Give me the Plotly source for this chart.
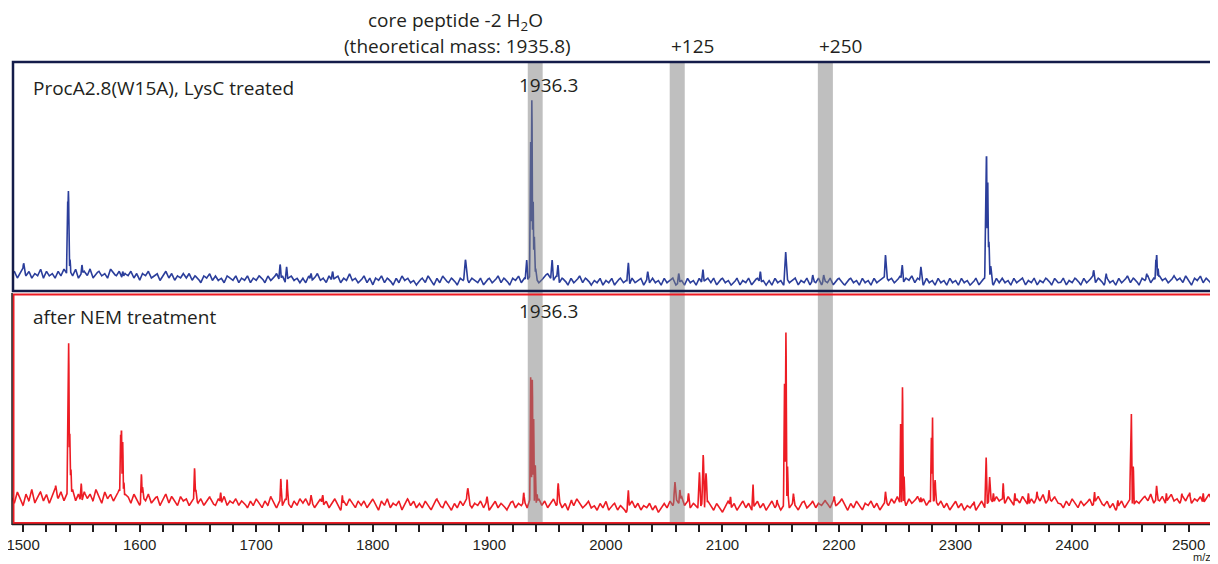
import numpy as np
import plotly.graph_objects as go

# ---------------- data (intensity in % of panel height) ----------------
BASE_MZ = np.arange(1490, 2525.1, 2.5)  # sampling grid of the noise baseline (m/z)

BLUE_BASE = [
    7, 9, 6, 8, 10, 7, 9, 6, 8, 7, 10, 6, 9, 7, 8, 6, 9, 7, 10, 8,
    9, 7, 10, 6, 8, 9, 7, 10, 6, 8, 9, 7, 8, 6, 10, 8, 7, 9, 6, 8,
    7, 9, 6, 8, 5, 8, 7, 9, 6, 7, 8, 5, 7, 9, 6, 8, 5, 7, 6, 8,
    6, 8, 5, 7, 6, 4, 7, 6, 8, 5, 7, 5, 6, 4, 7, 6, 5, 7, 4, 6,
    5, 7, 4, 6, 5, 7, 6, 4, 7, 5, 6, 8, 5, 7, 4, 6, 7, 5, 6, 4,
    6, 4, 7, 5, 6, 8, 5, 6, 4, 7, 5, 6, 7, 4, 6, 5, 8, 5, 6, 4,
    5, 7, 4, 6, 3, 6, 5, 7, 4, 6, 5, 3, 6, 4, 7, 5, 6, 4, 5, 3,
    5, 6, 4, 7, 5, 3, 6, 4, 7, 5, 4, 6, 5, 3, 6, 5, 7, 4, 6, 5,
    4, 6, 3, 5, 6, 4, 5, 7, 4, 6, 5, 3, 6, 5, 7, 4, 6, 5, 7, 6,
    6, 4, 5, 7, 8, 6, 5, 7, 4, 6, 5, 3, 6, 4, 5, 7, 4, 6, 5, 3,
    5, 4, 6, 3, 5, 4, 6, 3, 5, 6, 4, 5, 3, 6, 4, 5, 6, 3, 5, 4,
    6, 4, 5, 3, 6, 4, 5, 6, 3, 4, 5, 3, 6, 4, 5, 3, 6, 4, 5, 6,
    4, 6, 3, 5, 6, 4, 5, 3, 4, 6, 3, 5, 4, 6, 3, 5, 6, 4, 5, 3,
    5, 3, 6, 4, 5, 3, 6, 4, 5, 6, 3, 5, 4, 6, 3, 5, 4, 6, 3, 5,
    4, 6, 3, 5, 6, 4, 3, 5, 6, 4, 5, 3, 6, 4, 5, 3, 6, 4, 5, 6,
    7, 5, 6, 4, 5, 7, 4, 6, 5, 7, 4, 6, 5, 3, 6, 4, 5, 3, 6, 4,
    5, 3, 6, 4, 5, 3, 6, 4, 5, 3, 4, 6, 3, 5, 6, 4, 5, 3, 6, 4,
    6, 4, 5, 3, 6, 4, 5, 6, 3, 5, 4, 6, 3, 5, 4, 6, 5, 3, 6, 4,
    4, 6, 3, 5, 4, 6, 5, 3, 6, 4, 5, 7, 4, 6, 5, 3, 6, 4, 5, 3,
    6, 4, 5, 7, 4, 6, 5, 3, 6, 5, 7, 4, 6, 5, 7, 5, 6, 4, 5, 7,
    5, 6, 4, 7, 5, 3, 6, 5, 7, 4, 6, 5, 3, 6, 4,
]

RED_BASE = [
    12, 9, 14, 11, 8, 13, 10, 15, 9, 12, 14, 10, 13, 9, 12, 15, 11, 14, 10, 13,
    12, 15, 10, 13, 9, 14, 11, 13, 10, 15, 12, 9, 14, 11, 13, 10, 12, 15, 11, 13,
    12, 9, 13, 11, 8, 12, 10, 13, 9, 11, 12, 8, 11, 13, 9, 12, 10, 8, 12, 10,
    11, 8, 10, 12, 9, 11, 8, 10, 12, 9, 8, 11, 9, 12, 8, 10, 9, 11, 8, 10,
    9, 7, 10, 8, 11, 9, 7, 10, 8, 12, 9, 7, 10, 8, 11, 9, 7, 10, 8, 11,
    9, 11, 8, 10, 7, 9, 11, 8, 10, 7, 9, 11, 8, 6, 10, 8, 11, 9, 7, 10,
    8, 10, 7, 9, 11, 8, 6, 10, 8, 11, 7, 9, 8, 10, 6, 9, 11, 8, 10, 7,
    9, 7, 10, 8, 6, 9, 11, 8, 7, 10, 8, 6, 9, 7, 10, 8, 11, 9, 7, 9,
    8, 10, 7, 9, 6, 8, 10, 7, 9, 8, 6, 9, 10, 7, 9, 8, 10, 7, 11, 9,
    9, 11, 8, 10, 7, 9, 11, 8, 10, 7, 9, 6, 10, 8, 11, 9, 7, 8, 10, 7,
    8, 6, 9, 7, 10, 6, 8, 9, 6, 8, 7, 5, 8, 10, 7, 9, 6, 8, 7, 9,
    6, 8, 5, 7, 9, 7, 10, 8, 11, 9, 12, 8, 10, 7, 9, 8, 6, 9, 7, 10,
    8, 6, 9, 7, 5, 8, 10, 7, 9, 6, 8, 10, 7, 9, 6, 8, 10, 7, 9, 6,
    8, 10, 7, 9, 6, 8, 10, 7, 9, 8, 6, 9, 10, 7, 8, 10, 7, 9, 8, 10,
    9, 7, 10, 8, 9, 11, 8, 6, 9, 7, 10, 8, 6, 9, 8, 10, 7, 9, 6, 8,
    10, 8, 11, 9, 12, 9, 10, 8, 11, 9, 10, 12, 9, 11, 8, 10, 9, 11, 8, 10,
    7, 9, 6, 8, 10, 7, 9, 6, 8, 7, 9, 6, 8, 10, 7, 9, 11, 9, 12, 10,
    11, 9, 12, 10, 8, 11, 9, 12, 10, 8, 11, 9, 12, 10, 13, 9, 11, 10, 12, 9,
    9, 7, 10, 8, 11, 9, 7, 10, 8, 9, 11, 8, 10, 12, 9, 8, 10, 7, 9, 6,
    8, 10, 7, 9, 11, 8, 10, 9, 11, 12, 10, 13, 9, 11, 10, 12, 9, 11, 13, 10,
    11, 9, 12, 10, 13, 9, 11, 10, 12, 9, 11, 13, 10, 12, 9,
]

BLUE_PEAK_MZ = [1500.5, 1538.2, 1538.9, 1540.3, 1550.5, 1585.5, 1720.5, 1726.0, 1747.0,
                1765.5, 1879.5, 1932.0, 1935.4, 1936.5, 1937.6, 1938.6, 1939.8, 1953.8,
                1958.8, 2019.2, 2035.9, 2062.5, 2083.2, 2132.5, 2154.2, 2177.5, 2186.9,
                2239.9, 2254.2, 2270.2, 2325.9, 2326.6, 2327.6, 2328.6, 2330.2, 2418.5,
                2429.2, 2464.0, 2471.9, 2472.6, 2473.8]
BLUE_PEAK_INT = [12.4, 40.0, 43.7, 14.0, 11.7, 8.8, 11.9, 11.0, 8.0,
                 8.8, 13.9, 13.9, 67.0, 83.0, 40.0, 24.0, 10.0, 13.9,
                 11.7, 12.7, 8.8, 8.0, 9.8, 8.8, 17.4, 7.3, 7.3,
                 16.0, 11.7, 11.0, 52.0, 60.3, 48.5, 22.0, 11.0, 9.4,
                 8.0, 8.0, 14.0, 16.0, 10.0]
BLUE_PEAK_W = [1.0, 0.5, 0.5, 0.6, 0.8, 1.0, 0.8, 0.8, 1.0,
               1.0, 1.0, 0.8, 0.4, 0.4, 0.4, 0.5, 0.6, 0.8,
               0.8, 0.8, 0.8, 0.8, 0.8, 0.8, 0.8, 0.8, 0.8,
               0.7, 0.8, 0.8, 0.4, 0.4, 0.4, 0.6, 0.8, 0.8,
               0.8, 0.8, 0.5, 0.5, 0.6]

RED_PEAK_MZ = [1528.0, 1538.5, 1539.1, 1540.0, 1541.0, 1549.8, 1583.6, 1584.4, 1585.4,
               1586.5, 1601.5, 1602.5, 1647.1, 1648.2, 1669.5, 1721.1, 1726.5, 1747.0,
               1757.0, 1773.8, 1881.5, 1898.0, 1929.5, 1935.5, 1936.9, 1938.0, 1939.4,
               1941.0, 1959.1, 1970.5, 2019.2, 2059.2, 2063.5, 2070.9, 2080.2, 2083.5,
               2085.9, 2106.9, 2126.2, 2146.9, 2153.2, 2154.5, 2155.9, 2160.9, 2188.2,
               2195.9, 2239.9, 2252.9, 2254.5, 2255.9, 2270.2, 2279.2, 2280.2, 2282.5,
               2315.9, 2326.2, 2329.2, 2332.5, 2340.9, 2350.9, 2362.5, 2369.9, 2380.2,
               2419.2, 2439.2, 2450.2, 2450.9, 2452.5, 2472.5, 2480.9, 2494.2, 2500.9,
               2512.5]
RED_PEAK_INT = [16.5, 70.0, 78.6, 40.0, 24.0, 17.7, 40.0, 41.6, 36.0,
                18.0, 21.6, 16.0, 24.2, 15.0, 13.6, 19.6, 19.3, 12.6,
                12.6, 12.6, 15.5, 11.9, 13.6, 63.8, 62.7, 46.7, 25.7,
                13.0, 17.7, 10.4, 14.8, 18.4, 14.8, 13.3, 22.7, 30.0,
                22.0, 11.8, 17.4, 10.4, 62.9, 83.3, 25.0, 13.2, 10.4,
                12.0, 14.0, 43.5, 59.4, 20.6, 11.6, 38.7, 47.8, 19.1,
                9.7, 29.3, 20.6, 13.3, 17.7, 13.3, 13.3, 14.0, 14.8,
                14.0, 10.4, 38.0, 47.8, 25.0, 16.6, 13.3, 13.3, 13.6,
                13.3]
RED_PEAK_W = [1.0, 0.4, 0.4, 0.5, 0.6, 0.8, 0.4, 0.4, 0.5,
              0.7, 0.6, 0.7, 0.6, 0.8, 0.8, 0.6, 0.6, 1.0,
              1.0, 0.8, 1.2, 1.0, 0.8, 0.4, 0.4, 0.4, 0.5,
              0.7, 0.7, 1.0, 0.7, 0.8, 0.8, 0.8, 0.8, 0.7,
              0.8, 0.8, 0.6, 0.8, 0.4, 0.4, 0.5, 0.8, 1.0,
              0.8, 0.8, 0.4, 0.4, 0.5, 0.8, 0.4, 0.4, 0.6,
              0.8, 0.6, 0.7, 0.8, 0.6, 0.8, 0.8, 0.8, 0.8,
              0.8, 0.8, 0.4, 0.4, 0.5, 0.8, 0.8, 0.8, 0.8,
              0.8]

BANDS = [(1933.0, 1945.8), (2054.8, 2067.7), (2181.9, 2194.8)]
BAND_LABELS = ["+125", "+250"]
PANEL_LABELS = ["ProcA2.8(W15A), LysC treated", "after NEM treatment"]
PEAK_LABEL = "1936.3"
X_RANGE = [1490.5, 2523.5]

BLUE = "#2b3e9b"
RED = "#ed1c24"
NAVY = "#141c4a"
INK = "#231f20"

# ---------------- build spectra ----------------
mz = np.arange(X_RANGE[0], X_RANGE[1] + 0.1, 0.2)


def spectrum(base_vals, p_mz, p_int, p_w):
    base = np.interp(mz, BASE_MZ, base_vals)
    peaks = np.zeros_like(mz)
    for m, h, w in zip(p_mz, p_int, p_w):
        peaks = np.maximum(peaks, h * np.exp(-0.5 * ((mz - m) / w) ** 2))
    return np.maximum(base, peaks)


blue_y = spectrum(BLUE_BASE, BLUE_PEAK_MZ, BLUE_PEAK_INT, BLUE_PEAK_W)
red_y = spectrum(RED_BASE, RED_PEAK_MZ, RED_PEAK_INT, RED_PEAK_W)

# ---------------- figure ----------------
OFF = 8  # page body margin
W, H = 1210, 556
ML, MR, MT, MB = 4, 2, 53, 40
PW, PH = W - ML - MR, H - MT - MB


def px(xp):  # page pixel -> paper fraction
    return (xp - OFF - ML) / PW


def py(yp):
    return (H - MB - (yp - OFF)) / PH


fig = go.Figure()
fig.add_trace(go.Scatter(x=mz, y=blue_y, mode="lines", xaxis="x", yaxis="y",
                         line=dict(color=BLUE, width=1.6), hoverinfo="skip"))
fig.add_trace(go.Scatter(x=mz, y=red_y, mode="lines", xaxis="x", yaxis="y2",
                         line=dict(color=RED, width=1.6), hoverinfo="skip"))

shapes = []
for lo, hi in BANDS:
    shapes.append(dict(type="rect", xref="x", yref="paper", x0=lo, x1=hi, y0=0, y1=1,
                       fillcolor="#808080", opacity=0.5, line=dict(width=0), layer="above"))
# panel frames
shapes.append(dict(type="rect", xref="paper", yref="paper", x0=px(13), x1=px(1215),
                   y0=py(291), y1=py(62), line=dict(color=NAVY, width=2.5), layer="above"))
shapes.append(dict(type="rect", xref="paper", yref="paper", x0=px(13.5), x1=px(1214.5),
                   y0=py(523), y1=py(294.5), line=dict(color=RED, width=2), layer="above"))
shapes.append(dict(type="line", xref="paper", yref="paper", x0=px(12), x1=px(1216),
                   y0=py(524.5), y1=py(524.5), line=dict(color=INK, width=1.5), layer="above"))
shapes.append(dict(type="line", xref="paper", yref="paper", x0=px(12), x1=px(12),
                   y0=py(525), y1=py(293), line=dict(color=INK, width=1.5), layer="above"))

TF = dict(family="Open Sans, Noto Sans, sans-serif", size=19, color=INK)
ann = []


def add_text(text, xp, yp, anchor="center", size=None):
    f = dict(TF)
    if size:
        f["size"] = size
    ann.append(dict(text=text, xref="paper", yref="paper", x=px(xp), y=py(yp),
                    xanchor=anchor, yanchor="middle", showarrow=False, font=f))


add_text("core peptide -2 H<sub>2</sub>O", 455, 21)
add_text("(theoretical mass: 1935.8)", 457, 46)
add_text(BAND_LABELS[0], 692, 46)
add_text(BAND_LABELS[1], 840, 46)
add_text(PEAK_LABEL, 548, 85)
add_text(PEAK_LABEL, 548, 311)
add_text(PANEL_LABELS[0], 31, 88, anchor="left")
add_text(PANEL_LABELS[1], 31, 317, anchor="left")
ann.append(dict(text="m/z", xref="paper", yref="paper", x=px(1202), y=py(557),
                xanchor="center", yanchor="middle", showarrow=False,
                font=dict(family="Liberation Sans, Arial, sans-serif", size=11, color=INK)))

fig.update_layout(
    width=W, height=H,
    margin=dict(l=ML, r=MR, t=MT, b=MB, pad=0, autoexpand=False),
    paper_bgcolor="white", plot_bgcolor="white",
    showlegend=False,
    font=dict(family="Liberation Sans, Arial, sans-serif", size=15, color=INK),
    shapes=shapes, annotations=ann,
    xaxis=dict(range=X_RANGE, anchor="y2", showgrid=False, zeroline=False, showline=False,
               automargin=False,
               tick0=1500, dtick=100, ticks="outside", ticklen=7, tickwidth=1.5, tickcolor=INK,
               ticklabeloverflow="allow",
               tickfont=dict(family="Liberation Sans, Arial, sans-serif", size=15, color=INK),
               minor=dict(tick0=1500, dtick=20, ticks="outside", ticklen=7, tickwidth=1.5,
                          tickcolor=INK, showgrid=False),
               fixedrange=True),
    yaxis=dict(domain=[py(292), 1], range=[0, 100], visible=False, fixedrange=True,
               automargin=False),
    yaxis2=dict(domain=[0, py(294)], range=[0, 100], visible=False, fixedrange=True,
                automargin=False),
)

fig.write_html("out.html")
